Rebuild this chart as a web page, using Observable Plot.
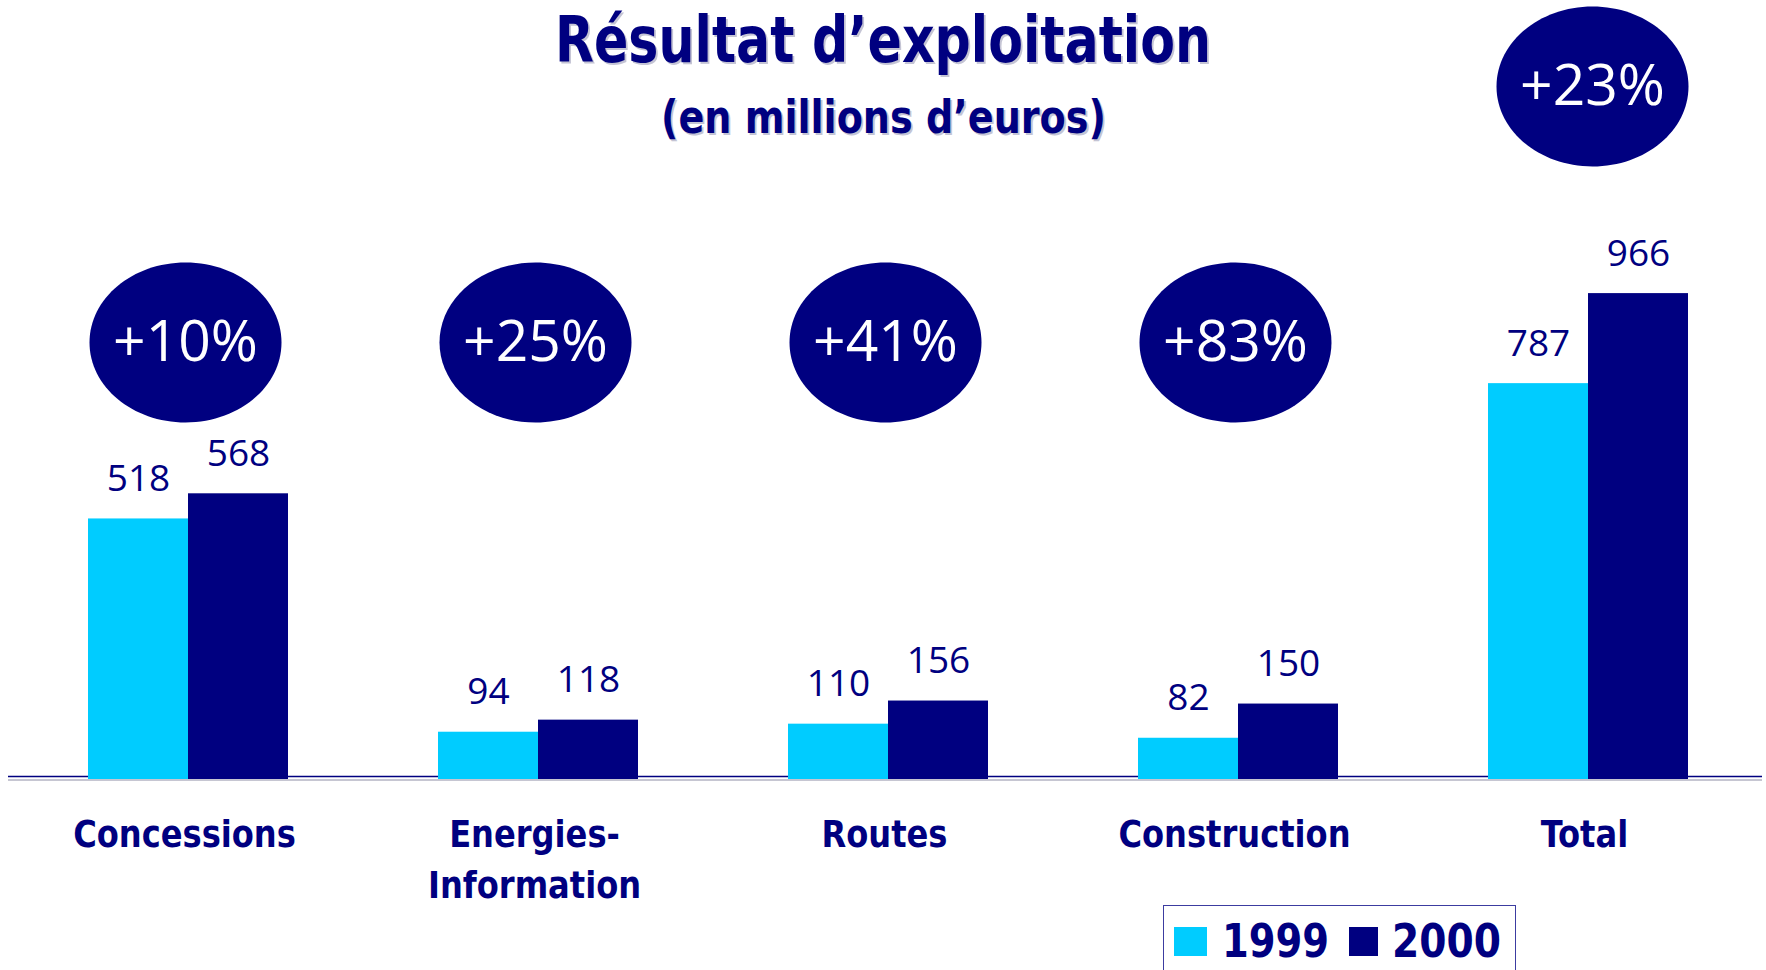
<!DOCTYPE html>
<html>
<head>
<meta charset="utf-8">
<script src="https://cdn.jsdelivr.net/npm/d3@7"></script>
<script src="https://cdn.jsdelivr.net/npm/@observablehq/plot@0.6"></script>
<style>
  html, body { margin: 0; padding: 0; background: #fff; overflow: hidden; }
  #wrap { position: relative; width: 1766px; height: 970px; }
  #chart { position: absolute; left: 0; top: 0; }
  .ttl { position: absolute; left: 0; width: 1766px; text-align: center; color: #000080;
         font-family: "DejaVu Sans Condensed", "DejaVu Sans", sans-serif; font-weight: bold;
         font-stretch: condensed; text-shadow: 2px 2px 0 #c4c4d4; white-space: nowrap; z-index: 2; }
  .ttl span { display: inline-block; transform-origin: 50% 50%; }
  #title { top: 8px; font-size: 64px; line-height: 64px; }
  #subtitle { top: 94px; font-size: 46px; line-height: 46px; }
  #legend { position: absolute; left: 1163px; top: 905px; width: 353px; height: 80px; box-sizing: border-box;
            border: 1.5px solid #3c3ca0; }
  #legend .row { position: absolute; left: 10px; top: 12px; display: flex; align-items: center; height: 46px; }
  #legend .sw { display: inline-block; width: 33px; height: 29px; }
  #legend .lb { display: inline-block; font-family: "DejaVu Sans Condensed", "DejaVu Sans", sans-serif; font-weight: bold;
                font-stretch: condensed; font-size: 47px; line-height: 46px; color: #000080; transform-origin: 0 50%; }
  g[font-family^="DejaVu Sans Condensed"] { font-stretch: condensed; }
</style>
</head>
<body>
<div id="wrap">
  <div id="title" class="ttl"><span>Résultat d’exploitation</span></div>
  <div id="subtitle" class="ttl"><span>(en millions d’euros)</span></div>
  <div id="chart"></div>
  <div id="legend"><div class="row">
    <span class="sw" style="background:#00CCFF;margin-right:15px"></span><span class="lb" id="l1">1999</span>
    <span class="sw" id="sw2" style="background:#000080;width:29px;margin-right:14px"></span><span class="lb" id="l2">2000</span>
  </div></div>
</div>
<script>
// ---- data ----
const categories = ["Concessions", "Energies-\nInformation", "Routes", "Construction", "Total"];
const values1999 = [518, 94, 110, 82, 787];
const values2000 = [568, 118, 156, 150, 966];
const growth = ["+10%", "+25%", "+41%", "+83%", "+23%"];
const legendYears = ["1999", "2000"];

const rows = categories.map((c, i) => ({category: c, v1999: values1999[i], v2000: values2000[i], growth: growth[i]}));
const segments = rows.slice(0, 4);
const total = rows.slice(4);

const LIGHT = "#00CCFF", NAVY = "#000080";

const ellipse = {
  draw(ctx) {
    const rx = 96, ry = 80, k = 0.5523;
    ctx.moveTo(rx, 0);
    ctx.bezierCurveTo(rx, ry * k, rx * k, ry, 0, ry);
    ctx.bezierCurveTo(-rx * k, ry, -rx, ry * k, -rx, 0);
    ctx.bezierCurveTo(-rx, -ry * k, -rx * k, -ry, 0, -ry);
    ctx.bezierCurveTo(rx * k, -ry, rx, -ry * k, rx, 0);
    ctx.closePath();
  }
};

const numFont = {fontFamily: "Open Sans, sans-serif"};
const catFont = {fontFamily: "DejaVu Sans Condensed, DejaVu Sans, sans-serif", fontWeight: "bold"};

const chart = Plot.plot({
  width: 1766,
  height: 970,
  marginTop: 276,
  marginBottom: 191,
  marginLeft: 8,
  marginRight: 4,
  x: {type: "band", domain: categories, paddingInner: 0.4286, paddingOuter: 0.22, align: 0.52, axis: null},
  y: {domain: [0, 1000], axis: null},
  style: {background: "transparent", overflow: "visible"},
  marks: [
    Plot.ruleY([0], {stroke: "#c6c6d2", strokeWidth: 2, dy: 0.5}),
    Plot.ruleY([0], {stroke: NAVY, strokeWidth: 1.5, dy: -3}),
    Plot.barY(rows, {x: "category", y: "v1999", fill: LIGHT, insetRight: 100}),
    Plot.barY(rows, {x: "category", y: "v2000", fill: NAVY, insetLeft: 100}),
    Plot.text(rows, {x: "category", y: "v1999", text: d => String(d.v1999), dx: -50, dy: -28,
      lineAnchor: "bottom", fontSize: 37, fill: NAVY, ...numFont}),
    Plot.text(rows, {x: "category", y: "v2000", text: d => String(d.v2000), dx: 50, dy: -28,
      lineAnchor: "bottom", fontSize: 37, fill: NAVY, ...numFont}),
    // growth ellipses
    Plot.dot(segments, {x: "category", frameAnchor: "top", dy: 66, dx: -3, symbol: ellipse, r: 80, fill: NAVY, stroke: null}),
    Plot.text(segments, {x: "category", text: "growth", frameAnchor: "top", dy: 66, dx: -3,
      lineAnchor: "middle", fontSize: 57, fontWeight: 500, fill: "white", ...numFont}),
    Plot.dot(total, {x: "category", frameAnchor: "top", dy: -190, dx: 4, symbol: ellipse, r: 80, fill: NAVY, stroke: null}),
    Plot.text(total, {x: "category", text: "growth", frameAnchor: "top", dy: -190, dx: 4,
      lineAnchor: "middle", fontSize: 57, fontWeight: 500, fill: "white", ...numFont}),
    // category labels
    Plot.text(categories, {x: d => d, text: d => d, frameAnchor: "bottom", dy: 31, dx: -4, lineAnchor: "top",
      lineHeight: 1.34, fontSize: 38, fill: NAVY, ...catFont})
  ]
});
document.getElementById("chart").appendChild(chart);

// fit text widths to the reference proportions
function fitEl(s, target) {
  const w = s.getBoundingClientRect().width;
  if (w > 0) s.style.transform = "scaleX(" + (target / w) + ")";
}
fitEl(document.querySelector("#title span"), 656);
fitEl(document.querySelector("#subtitle span"), 445);
// legend labels
const l1 = document.getElementById("l1"), l2 = document.getElementById("l2");
l1.textContent = legendYears[0]; l2.textContent = legendYears[1];
const w1 = l1.getBoundingClientRect().width;
fitEl(l1, 107); fitEl(l2, 109);
l1.style.marginRight = (20 + 107 - w1) + "px";
// category labels: squeeze slightly toward the reference's condensed face
chart.querySelectorAll('g[font-family^="DejaVu"] text').forEach(t => {
  const bb = t.getBBox();
  const cx = bb.x + bb.width / 2;
  const k = 0.94;
  t.setAttribute("transform", (t.getAttribute("transform") || "") + ` translate(${cx},0) scale(${k},1) translate(${-cx},0)`);
});
</script>
</body>
</html>
